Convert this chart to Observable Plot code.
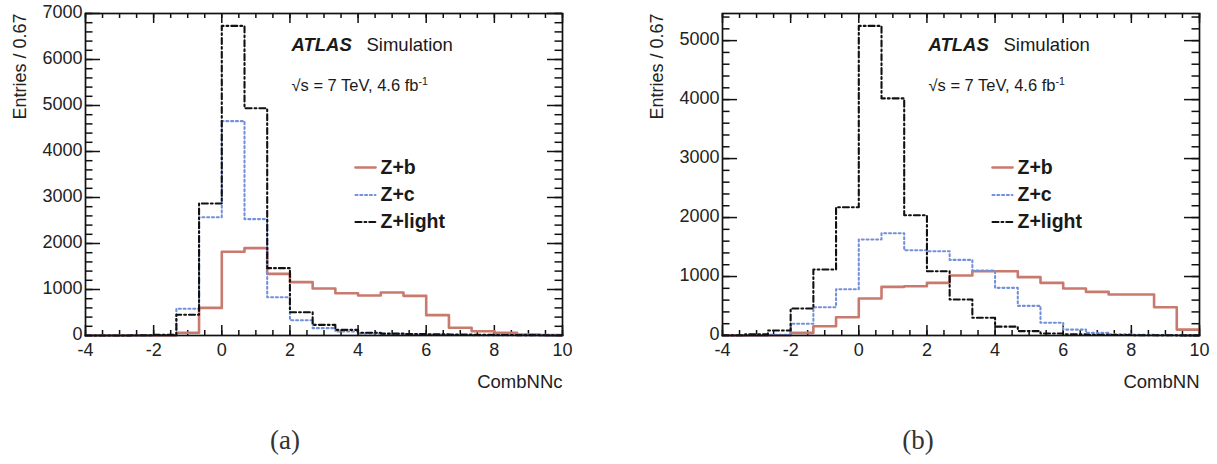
<!DOCTYPE html>
<html><head><meta charset="utf-8">
<script src="https://cdn.jsdelivr.net/npm/d3@7"></script>
<script src="https://cdn.jsdelivr.net/npm/@observablehq/plot@0.6"></script>
<style>
html,body{margin:0;padding:0;background:#fff;overflow:hidden}
#root{position:relative;width:1217px;height:464px;background:#fff}
.panel{position:absolute;top:0}
.cap{position:absolute;font-family:"Liberation Serif","Times New Roman",serif;font-size:27px;color:#333;transform:translate(-50%,-50%);white-space:nowrap}
</style></head><body><div id="root"></div>
<script>
// ---- data ----
const binEdges = [-4, -3.333, -2.667, -2, -1.333, -0.667, 0, 0.667, 1.333, 2, 2.667, 3.333, 4, 4.667, 5.333, 6, 6.667, 7.333, 8, 8.667, 9.333, 10];
const seriesNames = ["Z+b", "Z+c", "Z+light"];

// panel (a): CombNNc
const combNNc_Zb     = [0, 0, 0, 2, 60, 600, 1820, 1900, 1340, 1160, 1022, 920, 870, 935, 862, 442, 167, 94, 58, 22, 10];
const combNNc_Zc     = [0, 0, 0, 5, 580, 2572, 4660, 2530, 833, 333, 160, 87, 45, 30, 20, 15, 10, 8, 6, 4, 3];
const combNNc_Zlight = [0, 0, 5, 15, 450, 2870, 6730, 4940, 1464, 507, 232, 123, 60, 40, 30, 25, 20, 15, 12, 8, 5];

// panel (b): CombNN
const combNN_Zb     = [0, 0, 5, 45, 158, 310, 627, 825, 836, 893, 1017, 1090, 1090, 989, 893, 797, 740, 695, 695, 480, 100];
const combNN_Zc     = [0, 0, 10, 198, 480, 785, 1627, 1734, 1446, 1429, 1282, 1102, 808, 503, 215, 100, 45, 20, 10, 6, 4];
const combNN_Zlight = [5, 20, 85, 458, 1119, 2175, 5250, 4020, 2040, 1090, 610, 300, 150, 75, 35, 20, 12, 8, 5, 3, 2];

// axes / ticks
const xMajorTicks = [-4, -2, 0, 2, 4, 6, 8, 10];
const xMinorTicks = d3.range(-4, 10.001, 0.5);
const yMajorTicksA = [0, 1000, 2000, 3000, 4000, 5000, 6000, 7000];
const yMajorTicksB = [0, 1000, 2000, 3000, 4000, 5000];
const yMaxA = 7000, yMaxB = 5460;

// ---- styles ----
const styles = {
  "Z+b":     {stroke: "#c97a6e", strokeWidth: 2.6, strokeDasharray: null},
  "Z+c":     {stroke: "#7390da", strokeWidth: 2.1, strokeDasharray: "2,2.8"},
  "Z+light": {stroke: "#111111", strokeWidth: 2.1, strokeDasharray: "6,3,1.8,3"}
};
const FW = 477, FH = 322, ML = 85, MT = 13, H = 400;
const font = "'Liberation Sans', Arial, Helvetica, sans-serif";

function histRows(vals) {
  return binEdges.map((e, i) => ({x: e, y: vals[Math.min(i, vals.length - 1)]}));
}

function makePanel({width, yMax, yMajor, xLabel, values}) {
  const yMinor = d3.range(0, yMax + 0.001, 200);
  const px2x = px => -4 + px / FW * 14;
  const py2y = py => yMax * (1 - py / FH);
  const tick = {stroke: "#111", strokeWidth: 1.5};
  const marks = [
    // ticks inside the frame, on all four sides
    Plot.ruleY(yMajor, {y: d => d, insetRight: FW - 15, ...tick}),
    Plot.ruleY(yMajor, {y: d => d, insetLeft: FW - 15, ...tick}),
    Plot.ruleY(yMinor, {y: d => d, insetRight: FW - 7.5, ...tick}),
    Plot.ruleY(yMinor, {y: d => d, insetLeft: FW - 7.5, ...tick}),
    Plot.ruleX(xMajorTicks, {x: d => d, insetTop: FH - 10, ...tick}),
    Plot.ruleX(xMajorTicks, {x: d => d, insetBottom: FH - 10, ...tick}),
    Plot.ruleX(xMinorTicks, {x: d => d, insetTop: FH - 5, ...tick}),
    Plot.ruleX(xMinorTicks, {x: d => d, insetBottom: FH - 5, ...tick}),
    Plot.axisY({ticks: yMajor, tickSize: 0, tickPadding: 3, dy: -1.5, tickFormat: d => String(d), label: null, fontSize: 18, fill: "#222"}),
    Plot.axisX({ticks: xMajorTicks, tickSize: 0, tickPadding: 8, tickFormat: d => String(d), label: null, fontSize: 18, fill: "#222"}),
  ];
  seriesNames.forEach((name, i) => {
    marks.push(Plot.line(histRows(values[i]), {x: "x", y: "y", curve: "step-after", ...styles[name]}));
  });
  marks.push(Plot.frame({stroke: "#111", strokeWidth: 1.7}));
  // annotations
  const t = {frameAnchor: "top-left", textAnchor: "start", lineAnchor: "middle", fill: "#1a1a1a"};
  marks.push(
    Plot.text(["ATLAS"], {...t, dx: 206, dy: 32, fontSize: 18.5, fontWeight: "bold", fontStyle: "italic"}),
    Plot.text(["Simulation"], {...t, dx: 281, dy: 32, fontSize: 18.5}),
    Plot.text(["\u221As = 7 TeV, 4.6 fb"], {...t, dx: 206, dy: 72, fontSize: 16.5}),
    Plot.text(["-1"], {...t, dx: 333, dy: 68, fontSize: 10.5}),
    Plot.text(["Entries / 0.67"], {frameAnchor: "top-left", rotate: -90, textAnchor: "end", lineAnchor: "middle", dx: -65, dy: 0, fontSize: 18, fill: "#222"}),
    Plot.text([xLabel], {frameAnchor: "bottom-right", textAnchor: "end", lineAnchor: "middle", dy: 47, fontSize: 18.5, fill: "#222"})
  );
  const legendRows = [154, 181.5, 208.5];
  seriesNames.forEach((name, i) => {
    marks.push(Plot.line([[px2x(270), py2y(legendRows[i])], [px2x(290), py2y(legendRows[i])]], {...styles[name]}));
    marks.push(Plot.text([name], {...t, dx: 295, dy: legendRows[i], fontSize: 19.5, fontWeight: "bold"}));
  });
  return Plot.plot({
    width, height: H,
    marginLeft: ML, marginRight: width - ML - FW, marginTop: MT, marginBottom: H - MT - FH,
    x: {domain: [-4, 10]},
    y: {domain: [0, yMax]},
    style: {fontFamily: font, fontSize: "18px", color: "#222", background: "white", overflow: "visible"},
    marks
  });
}

const root = document.getElementById("root");
function place(node, left) {
  node.classList.add("panel");
  node.style.left = left + "px";
  root.appendChild(node);
}
place(makePanel({width: 600, yMax: yMaxA, yMajor: yMajorTicksA, xLabel: "CombNNc",
  values: [combNNc_Zb, combNNc_Zc, combNNc_Zlight]}), 0);
place(makePanel({width: 580, yMax: yMaxB, yMajor: yMajorTicksB, xLabel: "CombNN",
  values: [combNN_Zb, combNN_Zc, combNN_Zlight]}), 637);

const captions = [["(a)", 285, 440], ["(b)", 918, 440]];
for (const [txt, cx, cy] of captions) {
  const d = document.createElement("div");
  d.className = "cap"; d.textContent = txt;
  d.style.left = cx + "px"; d.style.top = cy + "px";
  root.appendChild(d);
}
</script></body></html>
